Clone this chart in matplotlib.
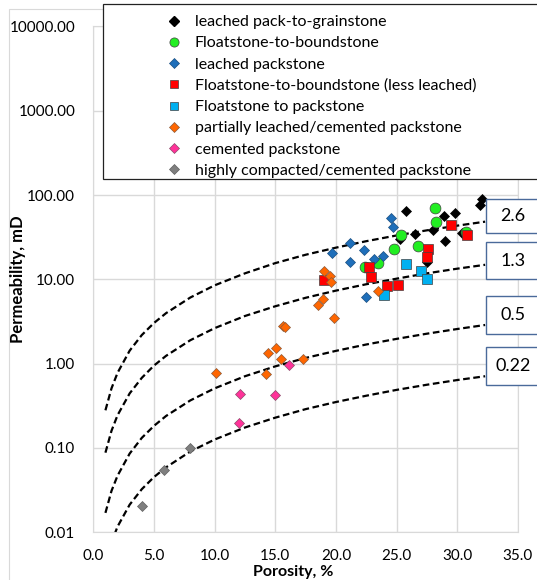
import matplotlib.pyplot as plt
from matplotlib.patches import Rectangle
from matplotlib.lines import Line2D

plt.rcParams['font.family'] = ['Lato', 'DejaVu Sans']

# porosity (%) and permeability (mD)
black_x = [25.8, 32.0, 31.9, 28.9, 29.8, 26.5, 28.0, 29.0, 30.4, 25.3, 27.5]
black_y = [65, 91, 76, 56.5, 61, 35, 38.5, 28.5, 35.3, 30, 16]
green_x = [28.2, 28.25, 25.4, 24.8, 26.8, 30.7, 22.4, 23.5]
green_y = [70, 48.5, 34, 23, 24.6, 37, 14.2, 15.5]
blue_x = [24.5, 24.7, 21.2, 19.65, 22.3, 23.9, 21.2, 23.1, 22.5]
blue_y = [53, 42, 26.8, 20.3, 22.2, 18.9, 16.1, 17.3, 6.2]
red_x = [29.5, 30.8, 27.6, 27.5, 22.7, 22.9, 24.2, 25.1, 19.0]
red_y = [44.5, 33.6, 23.2, 18.4, 14.2, 10.8, 8.3, 8.5, 9.8]
ltblue_x = [25.75, 27.0, 27.5, 24.0]
ltblue_y = [15.2, 12.7, 10.2, 6.5]
orange_x = [19.0, 19.5, 19.6, 18.9, 18.5, 19.85, 23.5, 17.3, 15.6, 15.8, 15.1, 14.4, 15.5, 10.1, 14.2]
orange_y = [12.5, 11.0, 9.4, 5.9, 5.0, 3.45, 7.2, 1.14, 2.82, 2.74, 1.55, 1.34, 1.15, 0.77, 0.75]
pink_x = [12.1, 15.0, 12.05, 16.1]
pink_y = [0.44, 0.42, 0.199, 0.97]
gray_x = [8.0, 5.8, 4.0]
gray_y = [0.1, 0.055, 0.0205]

names = ['leached pack-to-grainstone', 'Floatstone-to-boundstone', 'leached packstone',
         'Floatstone-to-boundstone (less leached)', 'Floatstone to packstone',
         'partially leached/cemented packstone', 'cemented packstone',
         'highly compacted/cemented packstone']

# dashed FZI lines
fzi_labels = ['2.6', '1.3', '0.5', '0.22']
line_x = [1, 1.5, 2, 3, 4, 5, 6, 8, 10, 12.5, 15, 17.5, 20, 22.5, 25, 27.5, 30, 32.3]
k_26 = [0.28, 0.51, 0.78, 1.43, 2.19, 3.04, 3.98, 6.1, 8.5, 11.8, 15.6, 19.6, 23.8, 28.4, 33.2, 38.2, 43.4, 48.4]
k_13 = [0.088, 0.16, 0.245, 0.445, 0.68, 0.95, 1.24, 1.9, 2.64, 3.68, 4.8, 6.05, 7.36, 8.76, 10.2, 11.8, 13.4, 14.9]
k_05 = [0.017, 0.031, 0.047, 0.086, 0.132, 0.183, 0.24, 0.367, 0.51, 0.71, 0.93, 1.17, 1.42, 1.69, 1.97, 2.27, 2.58, 2.88]
k_022 = [0.0042, 0.0076, 0.0117, 0.0213, 0.0325, 0.0452, 0.059, 0.091, 0.126, 0.175, 0.229, 0.289, 0.351, 0.417, 0.489, 0.563, 0.64, 0.71]

fig = plt.figure(figsize=(5.37, 5.80), dpi=100)
W, H = 537.0, 580.0

# outer chart border
fig.add_artist(Rectangle((8.5 / W, -0.1), 1.2, 1 - 8.5 / H + 0.1, transform=fig.transFigure,
                         fill=False, ec='#d9d9d9', lw=0.8))

ax = fig.add_axes([93.3 / W, 1 - 532.3 / H, 424.6 / W, 505.8 / H])
ax.set_yscale('log')
ax.set_xlim(0, 35)
ax.set_ylim(0.01, 10000)
ax.set_xticks(range(0, 36, 5))
ax.set_xticklabels(['%.1f' % v for v in range(0, 36, 5)])
yt = [0.01, 0.1, 1, 10, 100, 1000, 10000]
ax.set_yticks(yt)
ax.set_yticklabels(['%.2f' % v for v in yt])
ax.minorticks_off()
ax.grid(True, color='#d9d9d9', lw=1.0)
ax.set_axisbelow(True)
for s in ax.spines.values():
    s.set_color('#d9d9d9')
ax.tick_params(length=0, labelsize=11, colors='black')
ax.tick_params(axis='y', pad=13)
ax.tick_params(axis='x', pad=12)

dash = (0, (3, 1.6))
for ky in [k_26, k_13, k_05, k_022]:
    ax.plot(line_x, ky, color='black', lw=1.6, linestyle=dash, dash_capstyle='butt')

ec = '#404040'
ax.plot(black_x, black_y, 'D', ms=5.6, mfc='black', mec='black', mew=0.5, ls='none')
ax.plot(green_x, green_y, 'o', ms=7.8, mfc='#22ee22', mec=ec, mew=0.5, ls='none')
ax.plot(blue_x, blue_y, 'D', ms=5.6, mfc='#1f6fba', mec='#1a4f80', mew=0.5, ls='none')
ax.plot(red_x, red_y, 's', ms=7.6, mfc='#ff0000', mec=ec, mew=0.5, ls='none')
ax.plot(ltblue_x, ltblue_y, 's', ms=7.6, mfc='#00b0f0', mec=ec, mew=0.5, ls='none')
ax.plot(orange_x, orange_y, 'D', ms=5.6, mfc='#ff6600', mec='#8a5a3a', mew=0.5, ls='none')
ax.plot(pink_x, pink_y, 'D', ms=5.6, mfc='#ff3399', mec='#8a4a6a', mew=0.5, ls='none')
ax.plot(gray_x, gray_y, 'D', ms=5.6, mfc='#7f7f7f', mec='#606060', mew=0.5, ls='none')

# legend
handles = [
    Line2D([], [], marker='D', ms=4.6, mfc='black', mec='black', ls='none'),
    Line2D([], [], marker='o', ms=6.6, mfc='#22ee22', mec=ec, mew=0.5, ls='none'),
    Line2D([], [], marker='D', ms=4.6, mfc='#1f6fba', mec='#1a4f80', mew=0.5, ls='none'),
    Line2D([], [], marker='s', ms=6.0, mfc='#ff0000', mec=ec, mew=0.5, ls='none'),
    Line2D([], [], marker='s', ms=6.0, mfc='#00b0f0', mec=ec, mew=0.5, ls='none'),
    Line2D([], [], marker='D', ms=4.6, mfc='#ff6600', mec='#8a5a3a', mew=0.5, ls='none'),
    Line2D([], [], marker='D', ms=4.6, mfc='#ff3399', mec='#8a4a6a', mew=0.5, ls='none'),
    Line2D([], [], marker='D', ms=4.6, mfc='#7f7f7f', mec='#606060', mew=0.5, ls='none'),
]
fig.add_artist(Rectangle((103 / W, 1 - 178.5 / H), 1.0, 175 / H, transform=fig.transFigure,
                         fc='white', ec='#222222', lw=0.9, zorder=5))
leg = fig.legend(handles, names, loc='upper left', bbox_to_anchor=(165.6 / W, 1 - 15 / H),
                 frameon=False, borderpad=0, fontsize=11.5, handlelength=1.0,
                 handletextpad=0.84, labelspacing=0.44, borderaxespad=0)
leg.set_zorder(6)

# FZI value boxes
box_rows = [(199, 233), (242, 279), (296, 334), (347, 385)]
for lab, (t, b) in zip(fzi_labels, box_rows):
    fig.add_artist(Rectangle((486 / W, 1 - b / H), 0.3, (b - t) / H, transform=fig.transFigure,
                             fc='white', ec='#4a6a9a', lw=1.0, zorder=5))
    fig.text(513 / W, 1 - (t + b) / 2 / H, lab, ha='center', va='center', fontsize=13, zorder=6)

fig.text(18 / W, 1 - 279 / H, 'Permeability, mD', rotation=90, ha='center', va='center',
         fontsize=12, fontweight='bold')
fig.text(293 / W, 1 - 572 / H, 'Porosity, %', ha='center', va='center',
         fontsize=11.5, fontweight='bold')

fig.savefig('out.png', dpi=100)
